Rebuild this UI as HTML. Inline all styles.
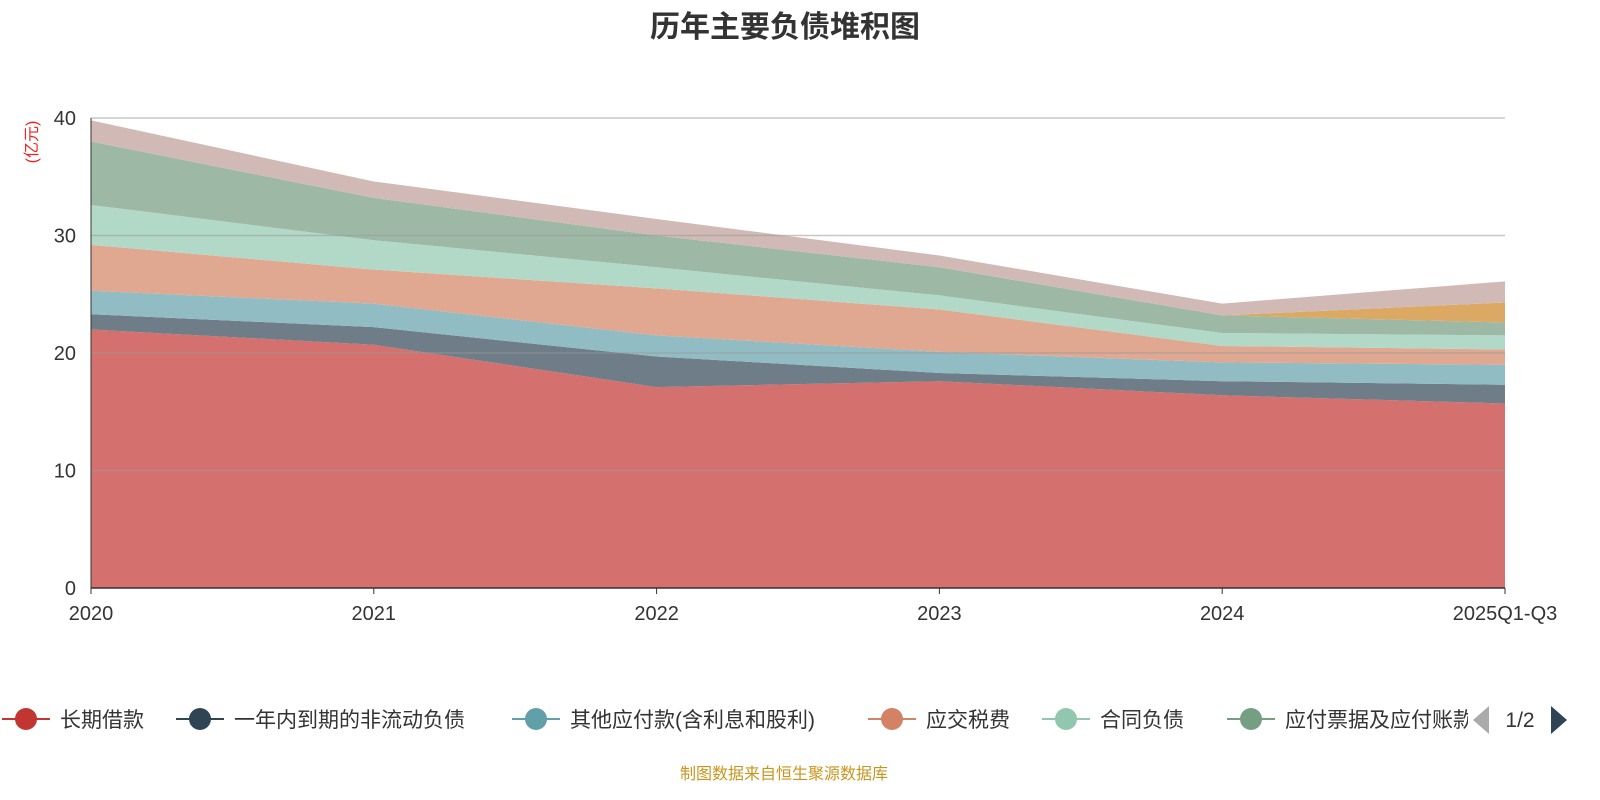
<!DOCTYPE html>
<html><head><meta charset="utf-8"><style>
html,body{margin:0;padding:0;background:#fff;overflow:hidden;width:1600px;height:800px;font-family:"Liberation Sans","Noto Sans CJK SC",sans-serif;}
svg{display:block;}
</style></head><body>
<svg id="chart" width="1600" height="800" xmlns="http://www.w3.org/2000/svg" style="font-family:'Liberation Sans','Noto Sans CJK SC',sans-serif">
<text x="785" y="37" text-anchor="middle" font-size="30" font-weight="bold" fill="#333">历年主要负债堆积图</text>
<text transform="translate(37,142) rotate(-90)" text-anchor="middle" font-size="16" fill="#e22">(亿元)</text>
<g id="areas"></g>
<g id="grid"></g>
<g id="axes"></g>
<g id="legend"></g>
<text x="784" y="779" text-anchor="middle" font-size="16" fill="#c8961e">制图数据来自恒生聚源数据库</text>
</svg>
<script>
const categories=["2020","2021","2022","2023","2024","2025Q1-Q3"];
const seriesNames=["长期借款","一年内到期的非流动负债","其他应付款(含利息和股利)","应交税费","合同负债","应付票据及应付账款","短期借款","其他"];
const s1=[22.0,20.7,17.1,17.6,16.4,15.7];
const s2=[1.3,1.5,2.6,0.7,1.2,1.6];
const s3=[2.0,2.0,1.8,1.8,1.6,1.7];
const s4=[3.9,2.9,4.0,3.6,1.4,1.3];
const s5=[3.4,2.5,1.8,1.2,1.1,1.2];
const s6=[5.4,3.6,2.7,2.4,1.5,1.1];
const s7=[0,0,0,0,0,1.7];
const s8=[1.8,1.4,1.4,1.0,1.0,1.8];
const yTicks=[0,10,20,30,40];
const series=[s1,s2,s3,s4,s5,s6,s7,s8];
const fills=["#d4706d","#6e7d88","#91bcc4","#e0a891","#b2d9c8","#9db9a6","#dba964","#d1bab5"];
const legendColors=["#c23531","#2f4554","#61a0a8","#d48265","#91c7ae","#749f83"];
const NS="http://www.w3.org/2000/svg";
const x0=91,x1=1505,yb=588,yt=118,ymax=40;
const X=i=>x0+(x1-x0)*i/(categories.length-1);
const Y=v=>yb-(yb-yt)*v/ymax;
function mk(tag,attrs,parent){const e=document.createElementNS(NS,tag);for(const k in attrs)e.setAttribute(k,attrs[k]);parent.appendChild(e);return e;}
const areas=document.getElementById('areas');
let base=categories.map(()=>0);
series.forEach((s,si)=>{
  const top=base.map((b,i)=>b+s[i]);
  let d="";
  top.forEach((v,i)=>{d+=(i?"L":"M")+X(i)+","+Y(v);});
  for(let i=categories.length-1;i>=0;i--)d+="L"+X(i)+","+Y(base[i]);
  const p=mk('path',{d:d+"Z",fill:fills[si]},areas);
  
  
  base=top;
});
const grid=document.getElementById('grid'),axes=document.getElementById('axes');
yTicks.forEach(t=>{
  if(t>0){const l=mk('line',{x1:x0,x2:x1,y1:Y(t),y2:Y(t),stroke:"#999","stroke-opacity":"0.55","stroke-width":1.5},grid);
  
  }
  const tx=mk('text',{x:76,y:Y(t)+7,"text-anchor":"end","font-size":20,fill:"#333"},axes);
  tx.textContent=t;
  
  
});
const ya=mk('line',{x1:x0,x2:x0,y1:yt,y2:yb,stroke:"#333"},axes);


const xa=mk('line',{x1:x0,x2:x1,y1:yb,y2:yb,stroke:"#333","stroke-width":1.5},axes);


categories.forEach((c,i)=>{
  mk('line',{x1:X(i),x2:X(i),y1:yb,y2:yb+6,stroke:"#333"},axes);
  const tx=mk('text',{x:X(i),y:620,"text-anchor":"middle","font-size":20,fill:"#333"},axes);
  tx.textContent=c;
  
  
});
const lg=document.getElementById('legend');
const lx=[0,174,510,866,1040,1225];
legendColors.forEach((col,i)=>{
  const g=mk('g',{},lg);
  
  
  mk('line',{x1:lx[i]+2,x2:lx[i]+50,y1:719,y2:719,stroke:col,"stroke-width":2},g);
  mk('circle',{cx:lx[i]+26,cy:719,r:11,fill:col},g);
  const t=mk('text',{x:lx[i]+60,y:727,"font-size":21,fill:"#333"},g);
  t.textContent=seriesNames[i];
});
mk('rect',{x:1468,y:700,width:132,height:40,fill:"#fff"},lg);
const prev=mk('path',{d:"M1489,706 L1473,720 L1489,734Z",fill:"#aaa"},lg);


const pg=mk('text',{x:1520,y:727,"text-anchor":"middle","font-size":21,fill:"#333"},lg);
pg.textContent="1/2";


const nxt=mk('path',{d:"M1551,706 L1567,720 L1551,734Z",fill:"#2f4554"},lg);


</script>
</body></html>
